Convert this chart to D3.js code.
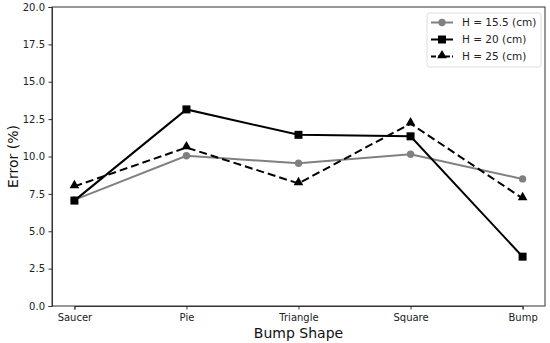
<!DOCTYPE html>
<html>
<head>
<meta charset="utf-8">
<script src="https://cdn.jsdelivr.net/npm/d3@7"></script>
<style>
  body { margin: 0; background: #fff; }
  text { font-family: "DejaVu Sans", sans-serif; }
</style>
</head>
<body>
<div id="chart"></div>
<script>
const shapes = ['Saucer', 'Pie', 'Triangle', 'Square', 'Bump'];
const h155 = [7.1, 10.05, 9.55, 10.15, 8.5];
const h20 = [7.05, 13.15, 11.45, 11.35, 3.3];
const h25 = [8.0, 10.6, 8.2, 12.2, 7.2];
const yTicks = [0, 2.5, 5, 7.5, 10, 12.5, 15, 17.5, 20];

const series = [
  {name: 'H = 15.5 (cm)', values: h155, color: '#808080', dash: null, marker: 'circle'},
  {name: 'H = 20 (cm)', values: h20, color: '#000', dash: null, marker: 'square'},
  {name: 'H = 25 (cm)', values: h25, color: '#000', dash: '8,4', marker: 'triangle'}
];

const width = 550, height = 343;
const margin = {top: 7, right: 5, bottom: 37, left: 52};
const iw = width - margin.left - margin.right;
const ih = height - margin.top - margin.bottom;

const svg = d3.select('#chart').append('svg')
  .attr('width', width)
  .attr('height', height);

const g = svg.append('g')
  .attr('transform', `translate(${margin.left},${margin.top})`);

// matplotlib style 5% margins
const pad = iw * 0.05 / 1.1;
const x = d3.scalePoint().domain(shapes).range([pad, iw - pad]).padding(0);
const y = d3.scaleLinear().domain([0, 20]).range([ih, 0]);

const symbols = {
  circle: d3.symbol(d3.symbolCircle, 42),
  square: d3.symbol(d3.symbolSquare, 64),
  triangle: d3.symbol(d3.symbolTriangle, 40)
};

// frame
g.append('rect')
  .attr('width', iw).attr('height', ih)
  .attr('fill', 'none').attr('stroke', '#333').attr('stroke-width', 1);

const xAxis = g.append('g')
  .attr('transform', `translate(0,${ih})`)
  .call(d3.axisBottom(x).tickSize(3.5).tickPadding(4));
const yAxis = g.append('g')
  .call(d3.axisLeft(y).tickValues(yTicks).tickFormat(d3.format('.1f')).tickSize(3.5).tickPadding(3.5));
[xAxis, yAxis].forEach(a => {
  a.select('.domain').attr('stroke', '#333');
  a.selectAll('.tick line').attr('stroke', '#333');
  a.selectAll('.tick text').attr('font-size', '10px').attr('fill', '#222')
    .attr('font-family', '"DejaVu Sans", sans-serif');
});

const line = d3.line().x((d, i) => x(shapes[i])).y(d => y(d));

series.forEach(s => {
  g.append('path')
    .datum(s.values)
    .attr('d', line)
    .attr('fill', 'none')
    .attr('stroke', s.color)
    .attr('stroke-width', 2)
    .attr('stroke-dasharray', s.dash);
  g.selectAll(null)
    .data(s.values)
    .enter()
    .append('path')
    .attr('d', symbols[s.marker])
    .attr('transform', (d, i) => `translate(${x(shapes[i])},${y(d) + (s.marker === 'triangle' ? -1 : 0)})`)
    .attr('fill', s.color);
});

// axis titles
svg.append('text')
  .attr('x', margin.left + iw / 2)
  .attr('y', 338)
  .attr('text-anchor', 'middle')
  .attr('font-size', '14px')
  .attr('fill', '#111')
  .text('Bump Shape');

svg.append('text')
  .attr('transform', `translate(18,${margin.top + ih / 2}) rotate(-90)`)
  .attr('text-anchor', 'middle')
  .attr('font-size', '14px')
  .attr('fill', '#111')
  .text('Error (%)');

// legend
const legend = svg.append('g').attr('transform', 'translate(427,13)');
legend.append('rect')
  .attr('width', 114).attr('height', 54).attr('rx', 2)
  .attr('fill', '#fff').attr('stroke', '#ddd');
series.forEach((s, i) => {
  const row = legend.append('g').attr('transform', `translate(0,${9.5 + i * 17})`);
  row.append('line')
    .attr('x1', 4).attr('x2', 26)
    .attr('stroke', s.color).attr('stroke-width', 2)
    .attr('stroke-dasharray', s.dash ? '5,2' : null);
  row.append('path')
    .attr('d', symbols[s.marker])
    .attr('transform', `translate(15,${s.marker === 'triangle' ? -1 : 0})`)
    .attr('fill', s.color);
  row.append('text')
    .attr('x', 35).attr('y', 0)
    .attr('dy', '0.35em')
    .attr('font-size', '10.5px')
    .attr('fill', '#222')
    .text(s.name);
});
</script>
</body>
</html>
